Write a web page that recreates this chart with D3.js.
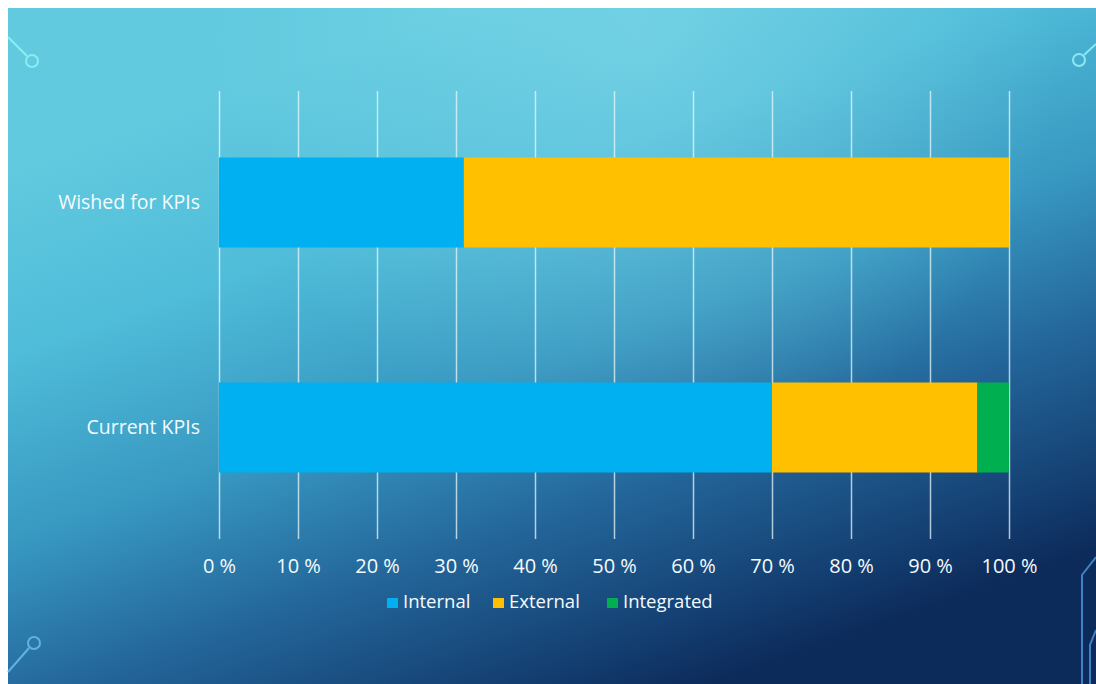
<!DOCTYPE html>
<html>
<head>
<meta charset="utf-8">
<script src="https://cdn.jsdelivr.net/npm/d3@7"></script>
<style>
  html, body { margin:0; padding:0; background:#ffffff; }
  svg text { font-family: "Open Sans", "Lato", sans-serif; fill:#f4fbfd; }
</style>
</head>
<body>
<svg id="kpigraph"></svg>
<script>
// chart data
var categories = ["Wished for KPIs", "Current KPIs"]
var seriesNames = ["Internal", "External", "Integrated"]
var internalValues = [31, 70]
var externalValues = [69, 26]
var integratedValues = [0, 4]
var tickValues = [0, 10, 20, 30, 40, 50, 60, 70, 80, 90, 100]
var seriesColors = ["#00b0f0", "#ffc000", "#00b050"]

var screen = {width:1096, height:684}
var margins = {left:219, right:87, top:90, bottom:144}
var graph = {
    width: screen.width - margins.left - margins.right,
    height: screen.height - margins.top - margins.bottom
}

var svg = d3.select("#kpigraph")
    .attr("width", screen.width)
    .attr("height", screen.height)

//background slide: diagonal fade plus a soft glow near the top
var defs = svg.append("defs")
var bg = defs.append("linearGradient")
    .attr("id", "bg")
    .attr("gradientUnits", "userSpaceOnUse")
    .attr("x1", 480).attr("y1", 0)
    .attr("x2", 720).attr("y2", 684)
bg.append("stop").attr("offset", 0).attr("stop-color", "#62cadf")
bg.append("stop").attr("offset", 0.25).attr("stop-color", "#4fbcd9")
bg.append("stop").attr("offset", 0.5).attr("stop-color", "#3797c0")
bg.append("stop").attr("offset", 0.7).attr("stop-color", "#24679b")
bg.append("stop").attr("offset", 0.9).attr("stop-color", "#143f72")
bg.append("stop").attr("offset", 1).attr("stop-color", "#0c2a5a")

var glow = defs.append("radialGradient")
    .attr("id", "glow")
    .attr("gradientUnits", "userSpaceOnUse")
    .attr("cx", 640).attr("cy", 40).attr("r", 420)
glow.append("stop").attr("offset", 0).attr("stop-color", "#8fe0ec").attr("stop-opacity", 0.45)
glow.append("stop").attr("offset", 1).attr("stop-color", "#8fe0ec").attr("stop-opacity", 0)

svg.append("rect")
    .attr("x", 8).attr("y", 8)
    .attr("width", screen.width - 8)
    .attr("height", screen.height - 8)
    .attr("fill", "url(#bg)")
svg.append("rect")
    .attr("x", 8).attr("y", 8)
    .attr("width", screen.width - 8)
    .attr("height", screen.height - 8)
    .attr("fill", "url(#glow)")

//corner decorations
var deco = svg.append("g").attr("fill", "none").attr("stroke-width", 2)
deco.append("path").attr("d", "M8,37 L27,56").attr("stroke", "#8cecf4")
deco.append("circle").attr("cx", 32).attr("cy", 61).attr("r", 6).attr("stroke", "#8cecf4")
deco.append("path").attr("d", "M1084,55 L1096,44").attr("stroke", "#8ee6f2")
deco.append("circle").attr("cx", 1079).attr("cy", 60).attr("r", 6).attr("stroke", "#8ee6f2")
deco.append("path").attr("d", "M29,648 L8,672").attr("stroke", "#5fb2e2")
deco.append("circle").attr("cx", 34).attr("cy", 643).attr("r", 6).attr("stroke", "#5fb2e2")
deco.append("path").attr("d", "M1096,557 L1082,575 L1082,684").attr("stroke", "#3f82c6")
deco.append("path").attr("d", "M1096,630 L1090,645 L1090,684").attr("stroke", "#3f82c6")

var xScale = d3.scaleLinear()
    .domain([0, 100])
    .range([0, graph.width])

var yScale = d3.scaleBand()
    .domain(categories)
    .range([0, graph.height])
    .paddingInner(0.6)
    .paddingOuter(0.3)

var target = svg.append("g")
    .attr("transform", "translate(" + margins.left + "," + margins.top + ")")

//gridlines + tick labels
var xAxis = d3.axisBottom(xScale)
    .tickValues(tickValues)
    .tickSizeInner(-(graph.height - 2))
    .tickSizeOuter(0)
    .tickPadding(20)
    .tickFormat(function(d) { return d + " %" })

var axisG = target.append("g")
    .attr("transform", "translate(0," + (graph.height - 1) + ")")
    .call(xAxis)
axisG.select(".domain").remove()
axisG.selectAll(".tick line")
    .attr("stroke", "#e6f7fa")
    .attr("stroke-opacity", 0.75)
    .attr("stroke-width", 1.5)
axisG.selectAll(".tick text")
    .attr("fill", "#f4fbfd")
    .style("font-family", "'Open Sans', sans-serif")
    .style("font-size", "20px")

//stacked bars
var rows = categories.map(function(c, i) {
    return [internalValues[i], externalValues[i], integratedValues[i]]
})

rows.forEach(function(vals, i) {
    var start = 0
    vals.forEach(function(v, s) {
        target.append("rect")
            .attr("x", xScale(start))
            .attr("y", yScale(categories[i]))
            .attr("width", xScale(start + v) - xScale(start))
            .attr("height", yScale.bandwidth())
            .attr("fill", seriesColors[s])
        start += v
    })
})

//category labels
target.selectAll(".cat")
    .data(categories)
    .enter()
    .append("text")
    .attr("class", "cat")
    .attr("text-anchor", "end")
    .attr("x", -19)
    .attr("y", function(d) { return yScale(d) + yScale.bandwidth() / 2 + 6 })
    .style("font-size", "19.5px")
    .text(function(d) { return d })

//legend
var legendX = [387, 493, 607]
var legend = svg.append("g").classed("legend", true)
var entries = legend.selectAll("g")
    .data(seriesNames)
    .enter()
    .append("g")
    .attr("transform", function(d, i) { return "translate(" + legendX[i] + ",598)" })
entries.append("rect")
    .attr("width", 11).attr("height", 10)
    .attr("fill", function(d, i) { return seriesColors[i] })
entries.append("text")
    .attr("x", 16).attr("y", 10)
    .style("font-size", "18.5px")
    .text(function(d) { return d })
</script>
</body>
</html>
